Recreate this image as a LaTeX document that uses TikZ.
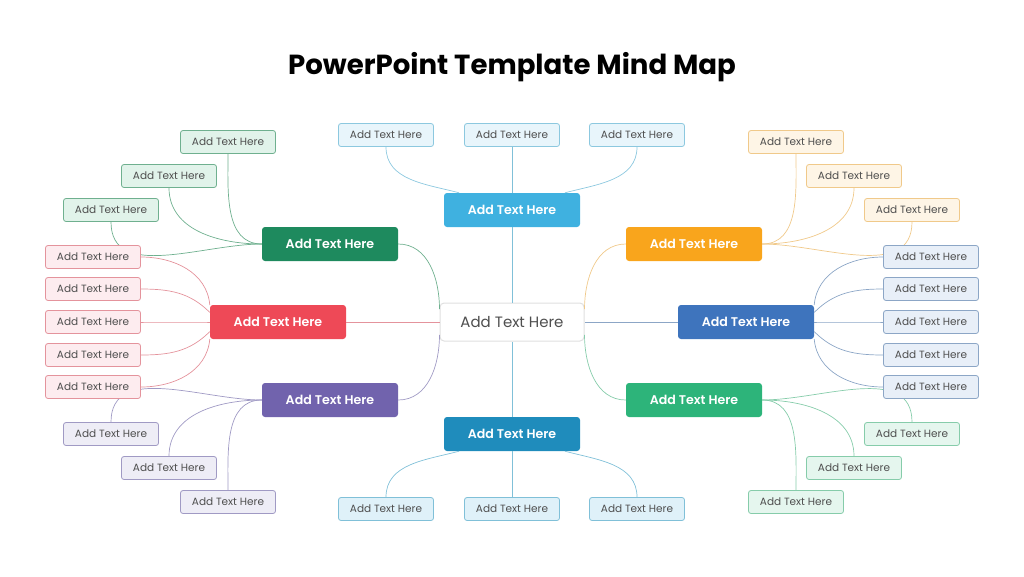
\documentclass[tikz,border=0pt]{standalone}
\usepackage{fontspec}
\setmainfont{Poppins}
\newfontfamily\poppinssemi{Poppins SemiBold}
\usepackage{xcolor}

\definecolor{topmain}{HTML}{3FB1E0}
\definecolor{topfill}{HTML}{E8F5FB}
\definecolor{topline}{HTML}{8CC8DF}
\definecolor{dgmain}{HTML}{1E8A5E}
\definecolor{dgfill}{HTML}{E1F3EA}
\definecolor{dgline}{HTML}{6FB08F}
\definecolor{ormain}{HTML}{F9A51C}
\definecolor{orfill}{HTML}{FEF5E6}
\definecolor{orline}{HTML}{F0C98A}
\definecolor{remain}{HTML}{EE4957}
\definecolor{refill}{HTML}{FDECEF}
\definecolor{reline}{HTML}{E4939C}
\definecolor{blmain}{HTML}{3E74BD}
\definecolor{blfill}{HTML}{E8EFF8}
\definecolor{blline}{HTML}{8CA6C6}
\definecolor{pumain}{HTML}{7163AD}
\definecolor{pufill}{HTML}{EEEDF6}
\definecolor{puline}{HTML}{A09AC4}
\definecolor{grmain}{HTML}{2DB47A}
\definecolor{grfill}{HTML}{E5F6EE}
\definecolor{grline}{HTML}{86CCAA}
\definecolor{btmain}{HTML}{1F8CBC}
\definecolor{btfill}{HTML}{DFF1F9}
\definecolor{btline}{HTML}{80C0D8}
\definecolor{leaftext}{HTML}{4F4F4F}

\begin{document}
\begin{tikzpicture}[x=1pt, y=-1pt,
		main/.style={rectangle, rounded corners=3pt, minimum width=136pt, minimum height=34pt, inner sep=0pt, text=white, font=\fontsize{12.6}{15}\poppinssemi},
		leaf/.style={rectangle, rounded corners=2.5pt, minimum width=95pt, minimum height=23pt, inner sep=0pt, line width=0.8pt, text=leaftext, font=\fontsize{10.5}{12}\selectfont},
		link/.style={line width=0.7pt}]

		%frame
		\useasboundingbox (0,0) rectangle (1024,576);

		%title
		\node (title) at (512,67) {\fontsize{27.6}{30}\selectfont\bfseries PowerPoint Template Mind Map};

		%center
		\node [draw=black!12, line width=1pt, fill=white, rounded corners=4pt, minimum width=144pt, minimum height=38pt, text=leaftext, font=\fontsize{15}{17}\selectfont] (cen) at (512,322) {Add Text Here};

		%main topics
		\node [main, fill=topmain] (top) at (512,210) {Add Text Here};
		\node [main, fill=dgmain] (dg) at (330,244) {Add Text Here};
		\node [main, fill=ormain] (or) at (694,244) {Add Text Here};
		\node [main, fill=remain] (re) at (278,322) {Add Text Here};
		\node [main, fill=blmain] (bl) at (746,322) {Add Text Here};
		\node [main, fill=pumain] (pu) at (330,400) {Add Text Here};
		\node [main, fill=grmain] (gr) at (694,400) {Add Text Here};
		\node [main, fill=btmain] (bt) at (512,434) {Add Text Here};

		%center links
		\draw [link, btline] (top) -- (cen);
		\draw [link, btline] (bt) -- (cen);
		\draw [link, reline] (re) -- (cen);
		\draw [link, blline] (bl) -- (cen);
		\draw [link, dgline] (dg.east) to [out=0, in=90] (cen.170);
		\draw [link, puline] (pu.east) to [out=0, in=-90] (cen.190);
		\draw [link, orline] (or.west) to [out=180, in=90] (cen.10);
		\draw [link, grline] (gr.west) to [out=180, in=-90] (cen.-10);

		%top leaves
		\foreach \x [count=\i] in {386,512,637}
			\node [leaf, draw=topline, fill=topfill] (top\i) at (\x,135) {Add Text Here};
		\draw [link, topline] (top1.south) to [out=-90, in=165] (top.162);
		\draw [link, btline] (top2) -- (top);
		\draw [link, topline] (top3.south) to [out=-90, in=15] (top.18);

		%bottom leaves
		\foreach \x [count=\i] in {386,512,637}
			\node [leaf, draw=btline, fill=btfill] (bt\i) at (\x,509) {Add Text Here};
		\draw [link, btline] (bt1.north) to [out=90, in=195] (bt.198);
		\draw [link, btline] (bt2) -- (bt);
		\draw [link, btline] (bt3.north) to [out=90, in=-15] (bt.-18);

		%dark green leaves
		\foreach \x/\y [count=\i] in {228/142, 169/176, 111/210} {
			\node [leaf, draw=dgline, fill=dgfill] (dg\i) at (\x,\y) {Add Text Here};
			\draw [link, dgline] (dg\i.south) to [out=-90, in=180] (dg.west);
		}

		%orange leaves
		\foreach \x/\y [count=\i] in {796/142, 854/176, 912/210} {
			\node [leaf, draw=orline, fill=orfill] (or\i) at (\x,\y) {Add Text Here};
			\draw [link, orline] (or\i.south) to [out=-90, in=0] (or.east);
		}

		%purple leaves
		\foreach \x/\y [count=\i] in {111/434, 169/468, 228/502} {
			\node [leaf, draw=puline, fill=pufill] (pu\i) at (\x,\y) {Add Text Here};
			\draw [link, puline] (pu\i.north) to [out=90, in=180] (pu.west);
		}

		%green leaves
		\foreach \x/\y [count=\i] in {912/434, 854/468, 796/502} {
			\node [leaf, draw=grline, fill=grfill] (gr\i) at (\x,\y) {Add Text Here};
			\draw [link, grline] (gr\i.north) to [out=90, in=0] (gr.east);
		}

		%red leaves
		\foreach \y/\e/\a [count=\i] in {257/166/95, 289/172/135, 322/180/180, 355/188/225, 387/194/265} {
			\node [leaf, draw=reline, fill=refill] (re\i) at (93,\y) {Add Text Here};
			\draw [link, reline] (re\i.east) to [out=0, in=\a] (re.\e);
		}

		%blue leaves
		\foreach \y/\e/\a [count=\i] in {257/14/85, 289/8/45, 322/0/0, 355/-8/-45, 387/-14/-85} {
			\node [leaf, draw=blline, fill=blfill] (bl\i) at (931,\y) {Add Text Here};
			\draw [link, blline] (bl\i.west) to [out=180, in=\a] (bl.\e);
		}
	\end{tikzpicture}
\end{document}
